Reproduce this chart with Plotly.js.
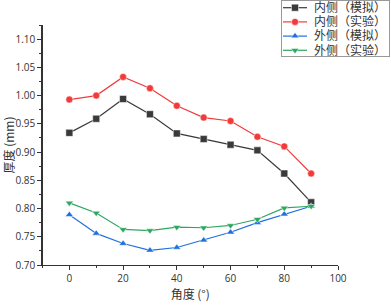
<!DOCTYPE html>
<html><head><meta charset="utf-8">
<script src="https://cdn.plot.ly/plotly-3.0.1.min.js"></script>
<style>html,body{margin:0;padding:0;background:#fff}#c{width:391px;height:305px}</style>
</head><body><div id="c"></div>
<script>
const angles = [0, 10, 20, 30, 40, 50, 60, 70, 80, 90];
const innerSim = [0.934, 0.959, 0.994, 0.967, 0.933, 0.923, 0.913, 0.903, 0.862, 0.811];
const innerExp = [0.993, 1.000, 1.033, 1.013, 0.982, 0.961, 0.955, 0.927, 0.910, 0.862];
const outerSim = [0.789, 0.756, 0.738, 0.726, 0.731, 0.744, 0.758, 0.775, 0.790, 0.804];
const outerExp = [0.810, 0.792, 0.763, 0.761, 0.767, 0.766, 0.770, 0.781, 0.801, 0.804];
const names = ['内侧（模拟）', '内侧（实验）', '外侧（模拟）', '外侧（实验）'];
const xTickVals = [0, 20, 40, 60, 80, 100];
const yTickVals = [0.70, 0.75, 0.80, 0.85, 0.90, 0.95, 1.00, 1.05, 1.10];
const colors = ['#3a3a3a', '#f23a3a', '#1f6fe0', '#2ea860'];
const symbols = ['square', 'circle', 'triangle-up', 'triangle-down'];
const series = [innerSim, innerExp, outerSim, outerExp];

const W = 391, H = 305;
const px = v => v / W, py = v => 1 - v / H;

const traces = series.map((ys, i) => ({
  x: angles, y: ys, name: names[i], type: 'scatter', mode: 'lines+markers', showlegend: false,
  line: {color: colors[i], width: 1.2},
  marker: {symbol: symbols[i], size: 7, color: colors[i], line: {color: '#ffffff', width: 0.5}}
}));

// legend (drawn on a hidden pixel-unit axis pair; frame is a bordered blank annotation)
const LW = 109, LH = 57;
const rowStep = 14.2, rowMid = 29;
const rowY = names.map((n, i) => rowMid + (i - 1.5) * rowStep);
const annotations = [{xref: 'paper', yref: 'paper', x: px(281), y: py(0), xanchor: 'left', yanchor: 'top',
  text: '\u00a0', showarrow: false, width: LW - 2, height: LH - 2, borderpad: 0, borderwidth: 1,
  bordercolor: '#999', font: {size: 2}}];
series.forEach((ys, i) => {
  traces.push({x: [2, 26], y: [rowY[i], rowY[i]], xaxis: 'x2', yaxis: 'y2', mode: 'lines', showlegend: false,
    line: {color: colors[i], width: 1.2}, hoverinfo: 'skip'});
  traces.push({x: [14], y: [rowY[i]], xaxis: 'x2', yaxis: 'y2', mode: 'markers', showlegend: false,
    marker: {symbol: symbols[i], size: 7, color: colors[i], line: {color: '#ffffff', width: 0.5}}, hoverinfo: 'skip'});
  annotations.push({xref: 'x2', yref: 'y2', x: 32, y: rowY[i], text: names[i], showarrow: false,
    xanchor: 'left', yanchor: 'middle', borderpad: 0,
    font: {family: 'DejaVu Sans, Noto Sans CJK SC, sans-serif', size: 12, color: '#333'}});
});

const titleFont = {family: 'Noto Sans CJK SC, sans-serif', size: 12, color: '#333'};
const layout = {
  width: W, height: H,
  margin: {l: 0, r: 0, t: 0, b: 0},
  paper_bgcolor: '#fff', plot_bgcolor: 'rgba(0,0,0,0)',
  font: {family: 'Open Sans, Noto Sans CJK SC, sans-serif', size: 10, color: '#333'},
  showlegend: false,
  xaxis: {domain: [px(42.5), px(338)], range: [-10, 100], automargin: false, showgrid: false, zeroline: false,
    showline: true, linecolor: '#333', linewidth: 1.2,
    ticks: 'outside', ticklen: 4, tickcolor: '#333', tickvals: xTickVals,
    minor: {ticks: 'outside', ticklen: 2, tickcolor: '#333', dtick: 10},
    title: {text: '角度 (°)', font: titleFont, standoff: 5}},
  yaxis: {domain: [1 - 265 / H, 1 - 25 / H], range: [0.70, 1.125], automargin: false, showgrid: false, zeroline: false,
    showline: true, linecolor: '#333', linewidth: 1.2,
    ticks: 'outside', ticklen: 4, tickcolor: '#333', tickvals: yTickVals, tickformat: '.2f',
    minor: {ticks: 'outside', ticklen: 2, tickcolor: '#333', dtick: 0.025},
    title: {text: '厚度 (mm)', font: titleFont, standoff: 3}},
  xaxis2: {domain: [px(281), px(281 + LW)], range: [0, LW], visible: false, anchor: 'y2'},
  yaxis2: {domain: [py(LH), py(0)], range: [LH, 0], visible: false, anchor: 'x2'},
  annotations: annotations
};
Plotly.newPlot('c', traces, layout, {staticPlot: true});
</script></body></html>
